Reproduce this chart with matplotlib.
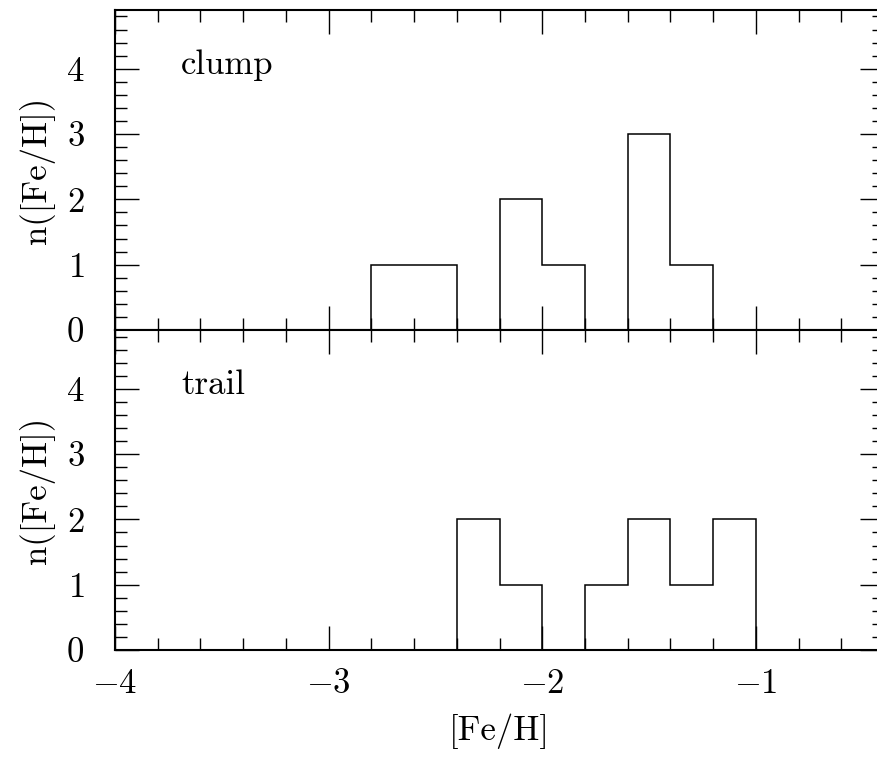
import numpy as np
import matplotlib
matplotlib.use("Agg")
import matplotlib.pyplot as plt
from matplotlib.ticker import MultipleLocator

plt.rcParams['font.family'] = 'serif'
plt.rcParams['font.serif'] = ['cmr10']
plt.rcParams['mathtext.fontset'] = 'cm'
plt.rcParams['axes.formatter.use_mathtext'] = True

# bin edges for [Fe/H], width 0.2
edges = np.round(np.arange(-4.0, -0.39, 0.2), 2)
# counts per bin, starting at -4.0
clump = [0, 0, 0, 0, 0, 0, 1, 1, 0, 2, 1, 0, 3, 1, 0, 0, 0, 0]
trail = [0, 0, 0, 0, 0, 0, 0, 0, 2, 1, 0, 1, 2, 1, 2, 0, 0, 0]
names = ['clump', 'trail']

fig = plt.figure(figsize=(8.78, 7.6), dpi=100)
ax1 = fig.add_axes([0.131, 0.5658, 0.876, 0.4211])
ax2 = fig.add_axes([0.131, 0.1447, 0.876, 0.4211])

fs = 25
for ax, counts, name in zip([ax1, ax2], [clump, trail], names):
    ax.stairs(counts, edges, color='black', lw=1.1, baseline=0)
    ax.set_xlim(-4.0, -0.4)
    ax.set_ylim(0, 4.9)
    ax.xaxis.set_major_locator(MultipleLocator(1))
    ax.xaxis.set_minor_locator(MultipleLocator(0.2))
    ax.yaxis.set_major_locator(MultipleLocator(1))
    ax.yaxis.set_minor_locator(MultipleLocator(0.2))
    ax.tick_params(which='both', direction='in', top=True, right=True,
                   labelsize=fs)
    ax.tick_params(which='major', length=17, width=1.0)
    ax.tick_params(which='minor', length=8.5, width=1.0)
    ax.tick_params(axis='y', pad=22)
    ax.tick_params(axis='x', pad=13)
    for s in ax.spines.values():
        s.set_linewidth(1.5)
    ax.set_ylabel('n([Fe/H])', fontsize=fs, labelpad=8)
    ax.text(-3.69, 3.92, name, fontsize=fs, va='baseline', ha='left')

ax1.tick_params(labelbottom=False)
ax2.set_xlabel('[Fe/H]', fontsize=fs, labelpad=10)

fig.savefig('out.png', dpi=100)
